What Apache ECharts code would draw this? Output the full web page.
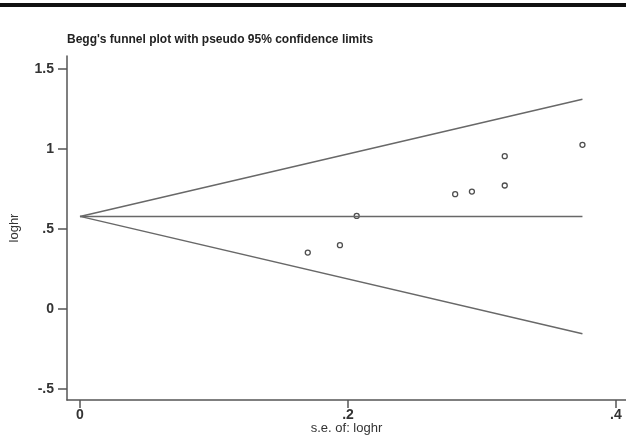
<!DOCTYPE html>
<html><head><meta charset="utf-8">
<script src="https://cdn.jsdelivr.net/npm/echarts@6/dist/echarts.min.js"></script>
<style>html,body{margin:0;padding:0;background:#fff}#c{width:626px;height:439px}</style>
</head><body><div id="c"></div>
<script>
// study points: standard error of log HR, log HR
const seValues = [0.170, 0.194, 0.2065, 0.280, 0.2925, 0.317, 0.317, 0.375];
const loghrValues = [0.352, 0.398, 0.581, 0.717, 0.733, 0.771, 0.954, 1.025];
// funnel (pooled estimate and pseudo 95% limits) endpoints
const funnelSe = [0, 0.375];
const upperLimit = [0.578, 1.31];
const lowerLimit = [0.578, -0.155];
const pooledLine = [0.578, 0.578];
const xTicks = [0, 0.2, 0.4];
const xTickLabels = ['0', '.2', '.4'];
const yTicks = [-0.5, 0, 0.5, 1, 1.5];
const yTickLabels = ['-.5', '0', '.5', '1', '1.5'];

const chart = echarts.init(document.getElementById('c'));
const pts = seValues.map((s, i) => [s, loghrValues[i]]);
const mk = arr => funnelSe.map((s, i) => [s, arr[i]]);
const lineStyle = {color: '#686868', width: 1.5};
const font = '"Liberation Sans", Arial, sans-serif';
chart.setOption({
  animation: false,
  title: {
    text: "Begg's funnel plot with pseudo 95% confidence limits",
    left: 67, top: 34, padding: 0,
    textStyle: {fontFamily: font, fontSize: 12, fontWeight: 'bold', color: '#222'}
  },
  graphic: [{type: 'rect', shape: {x: 0, y: 3, width: 626, height: 4}, style: {fill: '#111'}}],
  grid: {left: 67, top: 56, right: 0, bottom: 39, containLabel: false, outerBoundsMode: 'none'},
  xAxis: {
    type: 'value', min: -0.0097, max: 0.4075,
    name: 's.e. of: loghr', nameLocation: 'middle', nameGap: 22, nameMoveOverlap: false,
    nameTextStyle: {fontFamily: font, fontSize: 13, color: '#333'},
    axisLine: {onZero: false, lineStyle: {color: '#555', width: 1.5}},
    axisTick: {show: true, customValues: xTicks, length: 8, inside: false, lineStyle: {color: '#555', width: 1.5}},
    axisLabel: {customValues: xTicks, margin: 8, fontFamily: font, fontSize: 14, fontWeight: 'bold', color: '#333',
      formatter: v => xTickLabels[xTicks.findIndex(t => Math.abs(t - v) < 1e-9)] ?? ''},
    splitLine: {show: false}
  },
  yAxis: {
    type: 'value', min: -0.569, max: 1.58,
    name: 'loghr', nameLocation: 'middle', nameGap: 46, nameMoveOverlap: false, nameRotate: 90,
    nameTextStyle: {fontFamily: font, fontSize: 13, color: '#333'},
    axisLine: {show: true, onZero: false, lineStyle: {color: '#555', width: 1.5}},
    axisTick: {show: true, customValues: yTicks, length: 9, lineStyle: {color: '#555', width: 1.5}},
    axisLabel: {customValues: yTicks, margin: 13, fontFamily: font, fontSize: 14, fontWeight: 'bold', color: '#333',
      formatter: v => yTickLabels[yTicks.findIndex(t => Math.abs(t - v) < 1e-9)] ?? ''},
    splitLine: {show: false}
  },
  series: [
    {type: 'line', data: mk(upperLimit), symbol: 'none', lineStyle},
    {type: 'line', data: mk(lowerLimit), symbol: 'none', lineStyle},
    {type: 'line', data: mk(pooledLine), symbol: 'none', lineStyle},
    {type: 'scatter', data: pts, symbol: 'circle', symbolSize: 5,
      itemStyle: {color: '#fff', borderColor: '#222', borderWidth: 1.3}}
  ]
});
</script></body></html>
